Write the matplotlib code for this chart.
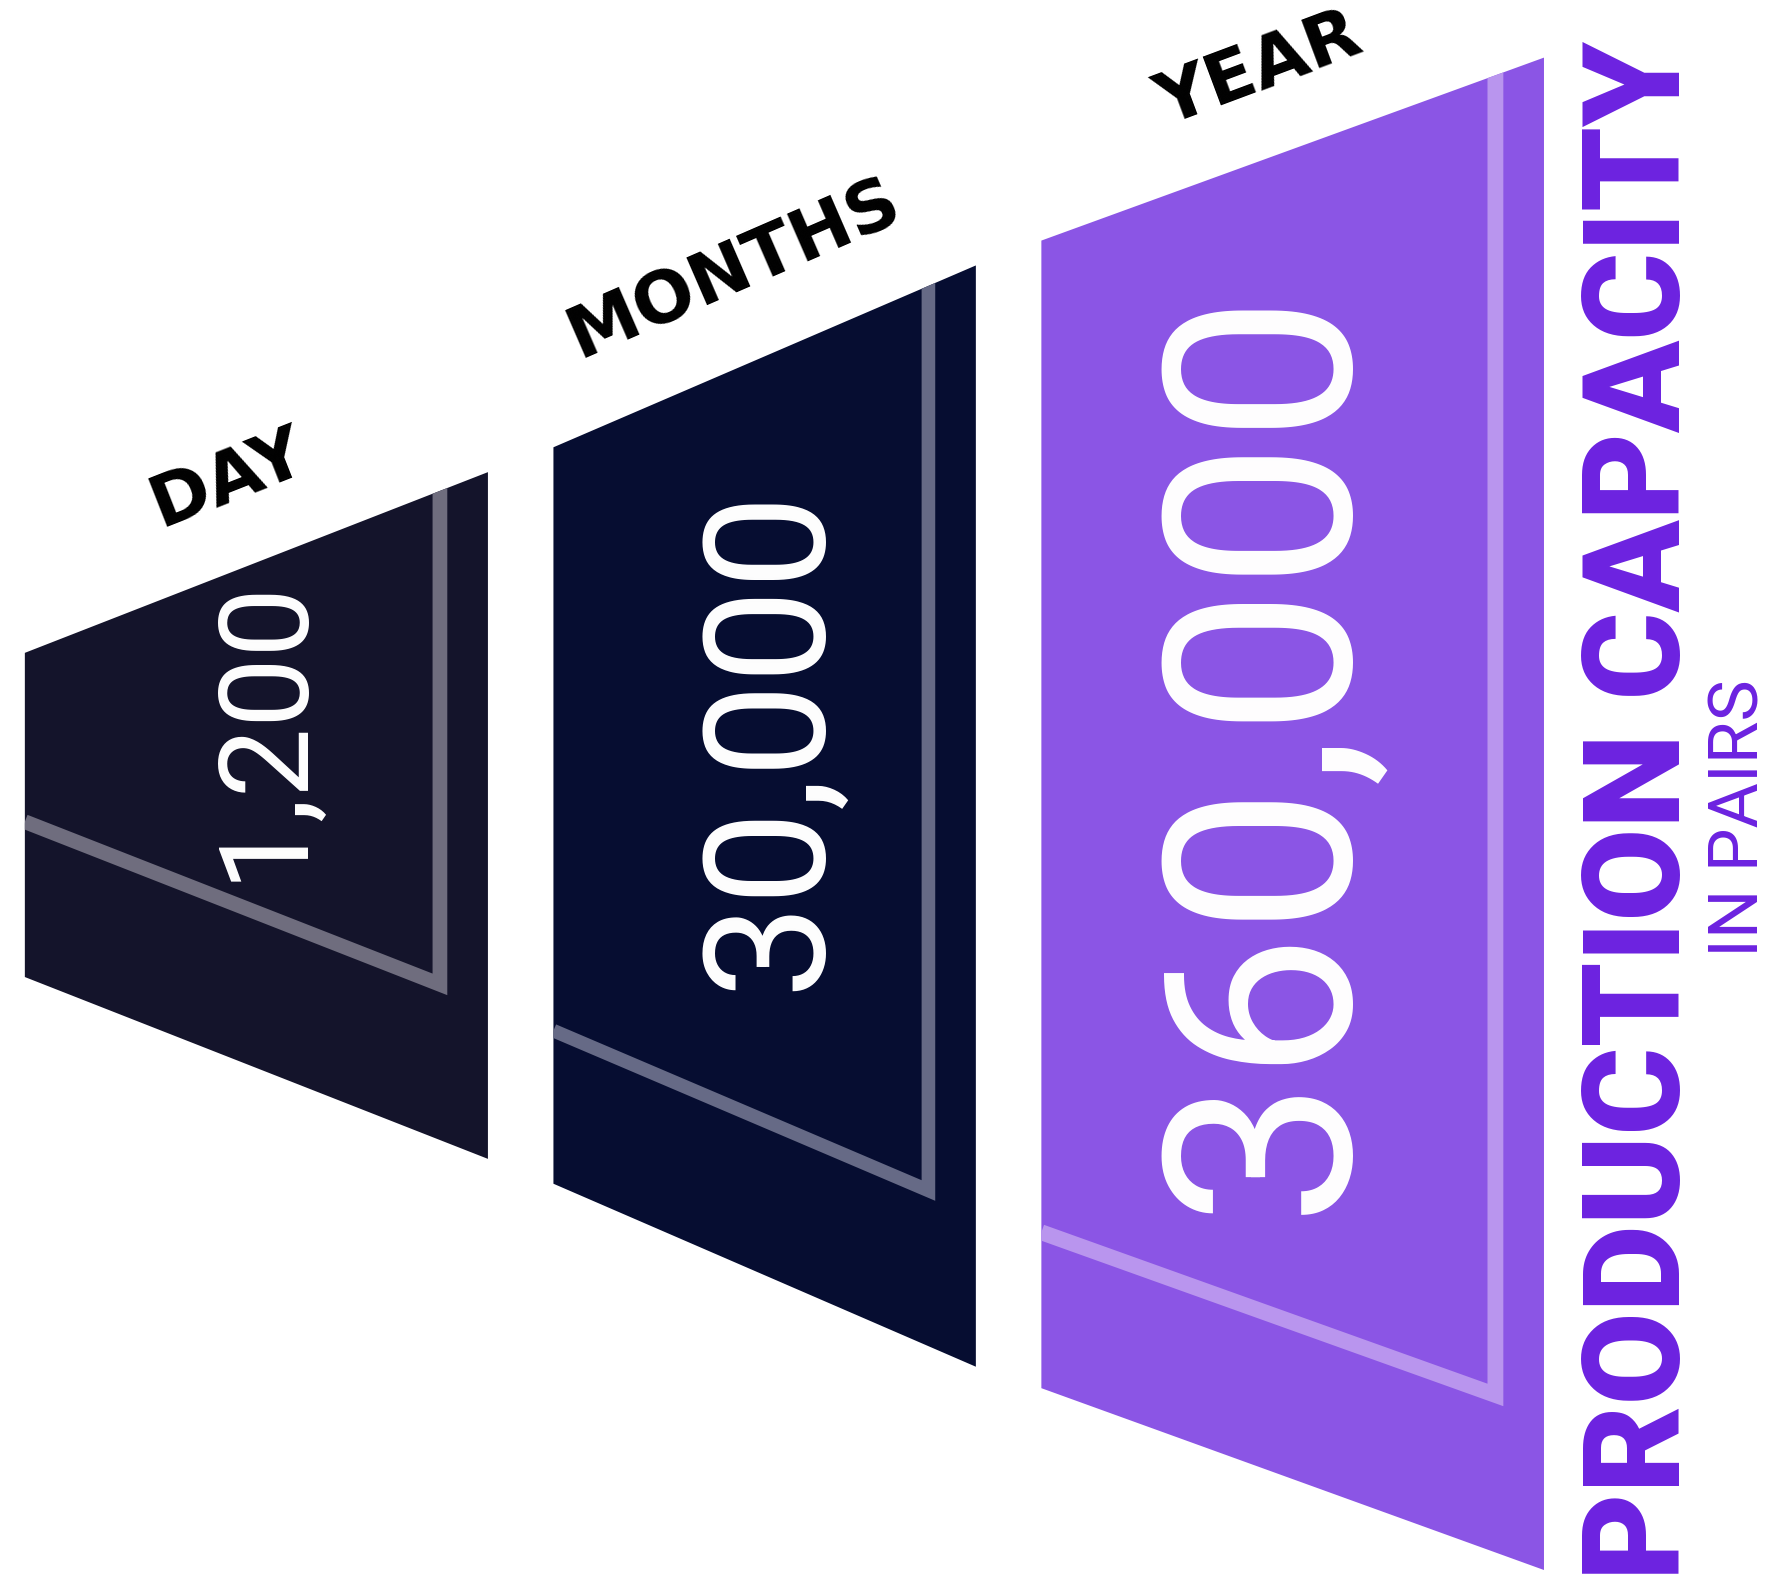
import matplotlib.pyplot as plt
from matplotlib.patches import Polygon

# data
periods = ['DAY', 'MONTHS', 'YEAR']
values = [1200, 30000, 360000]
title = 'PRODUCTION CAPACITY'
subtitle = 'IN PAIRS'

# layout (drawing units, y down)
W, H = 1568, 1413
panel_x = [(22, 432), (490, 864), (922, 1367)]
panel_left_y = [(578, 865), (396, 1048), (213, 1229)]
panel_right_y = [(418, 1026), (235, 1210), (51, 1390)]
strip_x = [389.5, 822, 1324]
strip_left_y = [727.5, 912.5, 1091]
strip_corner_y = [871.5, 1054, 1235]
strip_lw = [10.6, 9.8, 11.4]
panel_colors = ['#14142b', '#060d31', '#8b55e5']
strip_colors = ['#6f6d7e', '#666a86', '#b995ee']

label_pos = [(142, 466), (513, 317), (1033, 111)]
label_rot = [21.5, 23.5, 20.5]
num_pos = [(264, 645), (723, 654), (1185, 662)]
num_size = [90, 121, 188]

fig = plt.figure(figsize=(17.71, 15.96), dpi=100)
ax = fig.add_axes([0, 0, 1, 1])
ax.set_xlim(0, W)
ax.set_ylim(H, 0)
ax.axis('off')

for i in range(3):
    x0, x1 = panel_x[i]
    pts = [(x0, panel_left_y[i][0]), (x1, panel_right_y[i][0]),
           (x1, panel_right_y[i][1]), (x0, panel_left_y[i][1])]
    poly = Polygon(pts, closed=True, facecolor=panel_colors[i], edgecolor='none')
    ax.add_patch(poly)

    line, = ax.plot([x0, strip_x[i], strip_x[i]],
                    [strip_left_y[i], strip_corner_y[i], 0],
                    color=strip_colors[i], lw=strip_lw[i],
                    solid_joinstyle='miter', solid_capstyle='butt')
    line.set_clip_path(poly)

    ax.text(label_pos[i][0], label_pos[i][1], periods[i], rotation=label_rot[i],
            rotation_mode='anchor', ha='left', va='baseline',
            fontsize=52, fontweight='bold', family='DejaVu Sans', color='black')

    ax.text(num_pos[i][0], num_pos[i][1], f'{values[i]:,}', rotation=90,
            rotation_mode='anchor', ha='center', va='baseline',
            fontsize=num_size[i], family='Roboto', color='white')

ax.text(1487, 718, title, rotation=90, rotation_mode='anchor',
        ha='center', va='baseline', fontsize=97, fontweight='heavy',
        family='Roboto', color='#6c22e0')
ax.text(1557, 724, subtitle, rotation=90, rotation_mode='anchor',
        ha='center', va='baseline', fontsize=50,
        family='Roboto', color='#6c22e0')

fig.savefig('out.png', dpi=100)
